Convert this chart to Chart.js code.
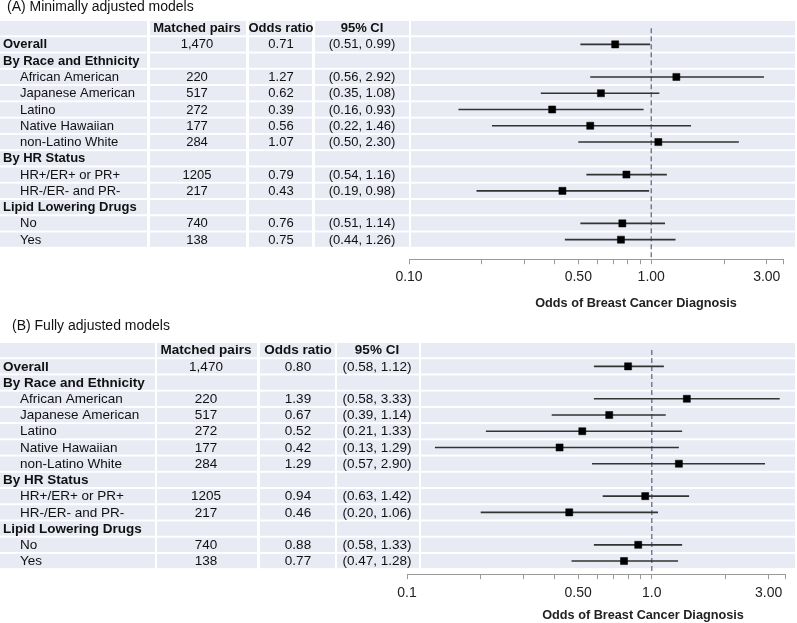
<!DOCTYPE html>
<html>
<head>
<meta charset="utf-8">
<title>Odds of Breast Cancer Diagnosis</title>
<script src="https://cdn.jsdelivr.net/npm/chart.js@4.4.0/dist/chart.umd.min.js"></script>
<style>
  html, body { margin: 0; padding: 0; background: #fff; overflow: hidden; }
  .panel { position: absolute; left: 0; width: 797px; height: 311px; }
  #panelA { top: 0; }
  #panelB { top: 312px; }
</style>
</head>
<body>
<div class="panel" id="panelA"><canvas id="chartA"></canvas></div>
<div class="panel" id="panelB"><canvas id="chartB"></canvas></div>
<script>
// table rows (same in both panels)
const rowLabels = [
  "Overall", "By Race and Ethnicity", "African American", "Japanese American",
  "Latino", "Native Hawaiian", "non-Latino White", "By HR Status",
  "HR+/ER+ or PR+", "HR-/ER- and PR-", "Lipid Lowering Drugs", "No", "Yes"
];
const subRow = [false, false, true, true, true, true, true, false, true, true, false, true, true];
const headerCols = ["Matched pairs", "Odds ratio", "95% CI"];

// (A) minimally adjusted
const pairsA = ["1,470", "", "220", "517", "272", "177", "284", "", "1205", "217", "", "740", "138"];
const orA    = [0.71, null, 1.27, 0.62, 0.39, 0.56, 1.07, null, 0.79, 0.43, null, 0.76, 0.75];
const lowA   = [0.51, null, 0.56, 0.35, 0.16, 0.22, 0.50, null, 0.54, 0.19, null, 0.51, 0.44];
const highA  = [0.99, null, 2.92, 1.08, 0.93, 1.46, 2.30, null, 1.16, 0.98, null, 1.14, 1.26];

// (B) fully adjusted
const pairsB = ["1,470", "", "220", "517", "272", "177", "284", "", "1205", "217", "", "740", "138"];
const orB    = [0.80, null, 1.39, 0.67, 0.52, 0.42, 1.29, null, 0.94, 0.46, null, 0.88, 0.77];
const lowB   = [0.58, null, 0.58, 0.39, 0.21, 0.13, 0.57, null, 0.63, 0.20, null, 0.58, 0.47];
const highB  = [1.12, null, 3.33, 1.14, 1.33, 1.29, 2.90, null, 1.42, 1.06, null, 1.33, 1.28];

// x axis
const tickMarks = [0.1, 0.2, 0.3, 0.4, 0.5, 0.6, 0.7, 0.8, 0.9, 1, 2, 3, 3.5];
const tickValues = [0.1, 0.5, 1, 3];
const tickTextA = ["0.10", "0.50", "1.00", "3.00"];
const tickTextB = ["0.1", "0.50", "1.0", "3.00"];
const axisTitle = "Odds of Breast Cancer Diagnosis";
const refValue = 1;

const FONT = '"Liberation Sans", Arial, Helvetica, sans-serif';
const CELL = "#e8eaf4";

const panelA = {
  title: "(A) Minimally adjusted models", titleX: 7, titleY: 7,
  pairs: pairsA, or: orA, low: lowA, high: highA, tickText: tickTextA,
  cols: [[0, 147], [150, 246], [249, 312], [315, 409], [411, 795]],
  centers: [197, 281, 362], fontSize: 13,
  pad: { left: 409, right: 14, top: 20, bottom: 21 }, yMax: 14.2,
  tickPad: 4.5, axisTitleX: 636, axisTitleY: 303
};
const panelB = {
  title: "(B) Fully adjusted models", titleX: 12, titleY: 14,
  pairs: pairsB, or: orB, low: lowB, high: highB, tickText: tickTextB,
  cols: [[0, 155], [157, 257], [260, 335], [337, 419], [421, 795]],
  centers: [206, 298, 377], fontSize: 13.5,
  pad: { left: 407, right: 12, top: 30, bottom: 15 }, yMax: 13.81,
  tickPad: 6, axisTitleX: 643, axisTitleY: 303
};

// background cells and table text, drawn under the plot
const tablePlugin = {
  id: "forestTable",
  beforeDraw(chart) {
    const p = chart.options.plugins.forestTable.panel;
    const ctx = chart.ctx;
    const y = chart.scales.y;
    ctx.save();
    ctx.fillStyle = "#111";
    ctx.font = "14px " + FONT;
    ctx.textBaseline = "middle";
    ctx.textAlign = "left";
    ctx.fillText(p.title, p.titleX, p.titleY);

    for (let r = 0; r <= rowLabels.length; r++) {
      const top = y.getPixelForValue(r - 0.5);
      const bottom = y.getPixelForValue(r + 0.5);
      ctx.fillStyle = CELL;
      p.cols.forEach(([x0, x1]) => ctx.fillRect(x0, top + 1, x1 - x0, bottom - top - 2));

      const cy = (top + bottom) / 2 + 0.5;
      ctx.fillStyle = "#111";
      if (r === 0) {
        ctx.font = "bold " + p.fontSize + "px " + FONT;
        ctx.textAlign = "center";
        headerCols.forEach((h, c) => ctx.fillText(h, p.centers[c], cy));
        continue;
      }
      const i = r - 1;
      ctx.textAlign = "left";
      ctx.font = (subRow[i] ? "" : "bold ") + p.fontSize + "px " + FONT;
      ctx.fillText(rowLabels[i], subRow[i] ? 20 : 3, cy);
      ctx.font = p.fontSize + "px " + FONT;
      ctx.textAlign = "center";
      ctx.fillText(p.pairs[i], p.centers[0], cy);
      if (p.or[i] !== null) {
        ctx.fillText(p.or[i].toFixed(2), p.centers[1], cy);
        ctx.fillText("(" + p.low[i].toFixed(2) + ", " + p.high[i].toFixed(2) + ")", p.centers[2], cy);
      }
    }

    // x axis title sits right of the axis centre in the original
    ctx.font = "bold 12.7px " + FONT;
    ctx.fillStyle = "#222";
    ctx.textAlign = "center";
    ctx.fillText(axisTitle, p.axisTitleX, p.axisTitleY);
    ctx.restore();
  }
};

function makeChart(canvasId, p) {
  const whiskers = [];
  const points = [];
  p.or.forEach((v, i) => {
    if (v === null) return;
    whiskers.push({ x: p.low[i], y: i + 1 }, { x: p.high[i], y: i + 1 }, { x: null, y: null });
    points.push({ x: v, y: i + 1 });
  });

  return new Chart(document.getElementById(canvasId), {
    type: "scatter",
    data: {
      datasets: [
        {
          label: "Odds ratio",
          data: points,
          pointStyle: "rect",
          pointRadius: 5,
          pointBackgroundColor: "#000",
          pointBorderColor: "#000",
          pointBorderWidth: 0.5,
          order: 0
        },
        {
          label: "95% CI",
          data: whiskers,
          showLine: true,
          spanGaps: false,
          borderColor: "#333",
          borderWidth: 1.6,
          pointRadius: 0,
          order: 1
        },
        {
          label: "Reference",
          data: [{ x: refValue, y: 0 }, { x: refValue, y: p.yMax }],
          showLine: true,
          borderColor: "#55627a",
          borderWidth: 1.2,
          borderDash: [5, 3],
          pointRadius: 0,
          order: 2
        }
      ]
    },
    options: {
      responsive: true,
      maintainAspectRatio: false,
      animation: false,
      layout: { padding: p.pad },
      plugins: {
        legend: { display: false },
        tooltip: { enabled: false },
        forestTable: { panel: p }
      },
      scales: {
        x: {
          type: "logarithmic",
          position: "bottom",
          min: 0.1,
          max: 3.5,
          afterBuildTicks: (axis) => {
            axis.ticks = tickMarks.map((v) => ({ value: v }));
          },
          border: { color: "#9a9a9a", width: 1 },
          grid: { drawOnChartArea: false, drawTicks: true, tickLength: 5, color: "#9a9a9a" },
          ticks: {
            autoSkip: false,
            maxRotation: 0,
            padding: p.tickPad,
            color: "#222",
            font: { family: FONT, size: 14 },
            callback: (v) => {
              const k = tickValues.indexOf(v);
              return k >= 0 ? p.tickText[k] : "";
            }
          },
          title: { display: false }
        },
        y: {
          type: "linear",
          display: false,
          reverse: true,
          min: -0.5,
          max: p.yMax
        }
      }
    },
    plugins: [tablePlugin]
  });
}

makeChart("chartA", panelA);
makeChart("chartB", panelB);
</script>
</body>
</html>
